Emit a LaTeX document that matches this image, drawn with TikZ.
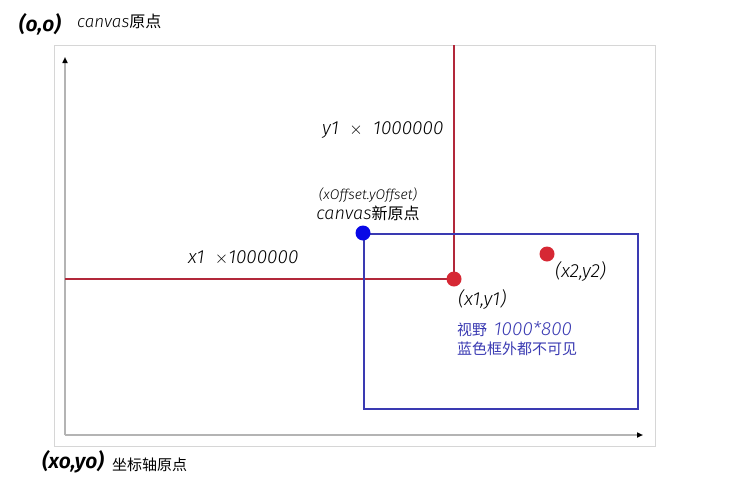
\documentclass[tikz,border=0pt]{standalone}
\usepackage{fontspec}
\newfontfamily\zh{Noto Sans CJK SC}
\newfontfamily\hw{Fira Sans Light}[BoldFont={Fira Sans SemiBold}]
\definecolor{axisred}{RGB}{178,40,58}
\definecolor{dotred}{RGB}{214,40,52}
\definecolor{viewblue}{RGB}{58,58,178}
\definecolor{dotblue}{RGB}{8,8,230}
\definecolor{framegray}{RGB}{214,214,214}
\definecolor{axisgray}{RGB}{180,180,180}
\usetikzlibrary{arrows.meta,positioning}

\begin{document}
\begin{tikzpicture}[x=1pt,y=-1pt,
      dot/.style={circle, inner sep=0pt, minimum size=15pt},
      redline/.style={axisred, line width=1.6pt},
      axis/.style={axisgray, line width=1.6pt, -{Triangle[length=6pt,width=5pt,color=black]}},
      lbl/.style={font=\hw\itshape\fontsize{19}{20}\selectfont, inner sep=0pt},
      zhlbl/.style={font=\zh\fontsize{15}{19}\selectfont, inner sep=0pt, align=left},
      hand/.style={font=\hw\bfseries\itshape\fontsize{21}{22}\selectfont, inner sep=0pt}
    ]
    \useasboundingbox (0,0) rectangle (749,501);
    % outer frame
    \draw[framegray, line width=1pt] (54,45) rectangle (655,446);
    % axes
    \coordinate (org) at (65,435);
    \coordinate (ytop) at (65,57);
    \coordinate (xend) at (643,435);
    \draw[axis] (org) -- (ytop);
    \draw[axis] (org) -- (xend);
    % offsets of (x1,y1)
    \coordinate (p1) at (454,279);
    \coordinate (topc) at (454,45);
    \coordinate (leftc) at (65,279);
    \draw[redline] (topc) -- (p1);
    \draw[redline] (leftc) -- (p1);
    % visible area
    \node[draw=viewblue, line width=1.6pt, anchor=north west,
          minimum width=274pt, minimum height=175pt] (view) at (363,233) {};
    \node[dot, fill=dotblue] (neworg) at (363,233) {};
    \node[dot, fill=dotred] (pone) at (p1) {};
    \node[dot, fill=dotred] (ptwo) at (547,254) {};
    % labels
    \node[hand] (o) at (40,24) {(o,o)};
    \node[inner sep=0pt, anchor=west] (co) at (77,21)
      {{\hw\itshape\fontsize{17}{18}\selectfont canvas}{\zh\fontsize{16}{17}\selectfont 原点}};
    \node[hand] (o0) at (73,462) {(xo,yo)};
    \node[zhlbl, anchor=west] (axo) at (112,465) {坐标轴原点};
    \node[lbl, anchor=west] (ymul) at (322,130) {y1 \ $\times$ \ 1000000};
    \node[lbl, anchor=west] (xmul) at (188,258) {x1 \ $\times$1000000};
    \node[lbl, font=\hw\itshape\fontsize{14}{15}\selectfont] (offs) at (368,195) {(xOffset.yOffset)};
    \node[inner sep=0pt] (newo) at (368,213)
      {{\hw\itshape\fontsize{18}{19}\selectfont canvas}{\zh\fontsize{16}{17}\selectfont 新原点}};
    \node[lbl, anchor=west] (l1) at (458,299) {(x1,y1)};
    \node[lbl, anchor=west] (l2) at (555,271) {(x2,y2)};
    \node[zhlbl, text=viewblue, anchor=north west] (vtxt) at (457,321)
      {视野 \ {\hw\itshape\fontsize{19}{19}\selectfont 1000*800}\\蓝色框外都不可见};
  \end{tikzpicture}
\end{document}
